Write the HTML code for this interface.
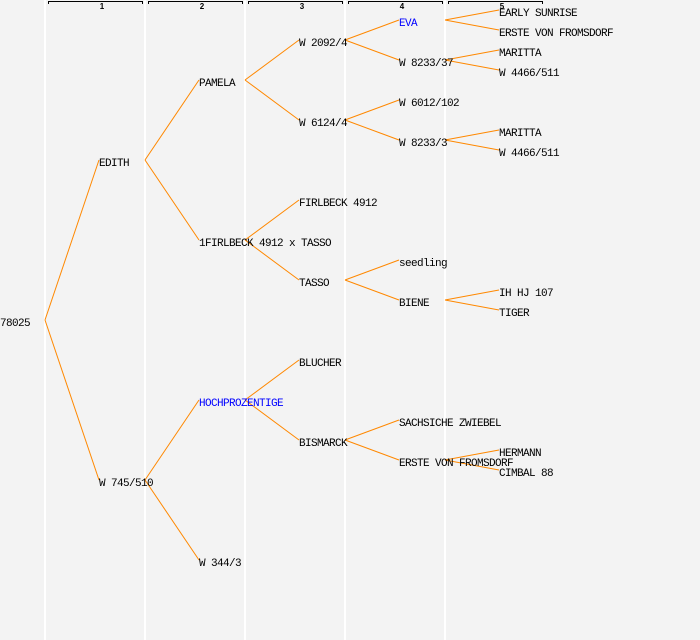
<!DOCTYPE html>
<html><head><style>
html,body{margin:0;padding:0;background:#f3f3f3;}
svg{display:block;}
text{font-family:"Liberation Mono",monospace;font-size:11px;letter-spacing:-0.6px;fill:#000;}
.h{font-size:8px;letter-spacing:0;font-family:"Liberation Sans",sans-serif;font-weight:bold;}
.b{fill:#0000ff;}
line.e{stroke:#ff8800;stroke-width:1;}
</style></head><body>
<svg width="700" height="640" viewBox="0 0 700 640">
<rect width="700" height="640" fill="#f3f3f3"/>
<g fill="#fff">
<rect x="44" y="0" width="2" height="640"/>
<rect x="144" y="0" width="2" height="640"/>
<rect x="244" y="0" width="2" height="640"/>
<rect x="344" y="0" width="2" height="640"/>
<rect x="444" y="0" width="2" height="640"/>
</g>
<g stroke="#000" fill="none" stroke-width="1">
<path d="M48.5 4V1.5H142.5V4"/>
<path d="M148.5 4V1.5H242.5V4"/>
<path d="M248.5 4V1.5H342.5V4"/>
<path d="M348.5 4V1.5H442.5V4"/>
<path d="M448.5 4V1.5H542.5V4"/>
</g>
<text class="h" x="102" y="9" text-anchor="middle">1</text>
<text class="h" x="202" y="9" text-anchor="middle">2</text>
<text class="h" x="302" y="9" text-anchor="middle">3</text>
<text class="h" x="402" y="9" text-anchor="middle">4</text>
<text class="h" x="502" y="9" text-anchor="middle">5</text>
<g>
<line class="e" x1="45" y1="320" x2="99" y2="160"/>
<line class="e" x1="45" y1="320" x2="99" y2="480"/>
<line class="e" x1="145" y1="160" x2="199" y2="80"/>
<line class="e" x1="145" y1="160" x2="199" y2="240"/>
<line class="e" x1="145" y1="480" x2="199" y2="400"/>
<line class="e" x1="145" y1="480" x2="199" y2="560"/>
<line class="e" x1="245" y1="80" x2="299" y2="40"/>
<line class="e" x1="245" y1="80" x2="299" y2="120"/>
<line class="e" x1="245" y1="240" x2="299" y2="200"/>
<line class="e" x1="245" y1="240" x2="299" y2="280"/>
<line class="e" x1="245" y1="400" x2="299" y2="360"/>
<line class="e" x1="245" y1="400" x2="299" y2="440"/>
<line class="e" x1="345" y1="40" x2="399" y2="20"/>
<line class="e" x1="345" y1="40" x2="399" y2="60"/>
<line class="e" x1="345" y1="120" x2="399" y2="100"/>
<line class="e" x1="345" y1="120" x2="399" y2="140"/>
<line class="e" x1="345" y1="280" x2="399" y2="260"/>
<line class="e" x1="345" y1="280" x2="399" y2="300"/>
<line class="e" x1="345" y1="440" x2="399" y2="420"/>
<line class="e" x1="345" y1="440" x2="399" y2="460"/>
<line class="e" x1="445" y1="20" x2="499" y2="10"/>
<line class="e" x1="445" y1="20" x2="499" y2="30"/>
<line class="e" x1="445" y1="60" x2="499" y2="50"/>
<line class="e" x1="445" y1="60" x2="499" y2="70"/>
<line class="e" x1="445" y1="140" x2="499" y2="130"/>
<line class="e" x1="445" y1="140" x2="499" y2="150"/>
<line class="e" x1="445" y1="300" x2="499" y2="290"/>
<line class="e" x1="445" y1="300" x2="499" y2="310"/>
<line class="e" x1="445" y1="460" x2="499" y2="450"/>
<line class="e" x1="445" y1="460" x2="499" y2="470"/>
</g>
<text x="0" y="326">78025</text>
<text x="99" y="166">EDITH</text>
<text x="99" y="486">W 745/510</text>
<text x="199" y="86">PAMELA</text>
<text x="199" y="246">1FIRLBECK 4912 x TASSO</text>
<text x="199" y="406" class="b">HOCHPROZENTIGE</text>
<text x="199" y="566">W 344/3</text>
<text x="299" y="46">W 2092/4</text>
<text x="299" y="126">W 6124/4</text>
<text x="299" y="206">FIRLBECK 4912</text>
<text x="299" y="286">TASSO</text>
<text x="299" y="366">BLUCHER</text>
<text x="299" y="446">BISMARCK</text>
<text x="399" y="26" class="b">EVA</text>
<text x="399" y="66">W 8233/37</text>
<text x="399" y="106">W 6012/102</text>
<text x="399" y="146">W 8233/3</text>
<text x="399" y="266">seedling</text>
<text x="399" y="306">BIENE</text>
<text x="399" y="426">SACHSICHE ZWIEBEL</text>
<text x="399" y="466">ERSTE VON FROMSDORF</text>
<text x="499" y="16">EARLY SUNRISE</text>
<text x="499" y="36">ERSTE VON FROMSDORF</text>
<text x="499" y="56">MARITTA</text>
<text x="499" y="76">W 4466/511</text>
<text x="499" y="136">MARITTA</text>
<text x="499" y="156">W 4466/511</text>
<text x="499" y="296">IH HJ 107</text>
<text x="499" y="316">TIGER</text>
<text x="499" y="456">HERMANN</text>
<text x="499" y="476">CIMBAL 88</text>
</svg>
</body></html>
